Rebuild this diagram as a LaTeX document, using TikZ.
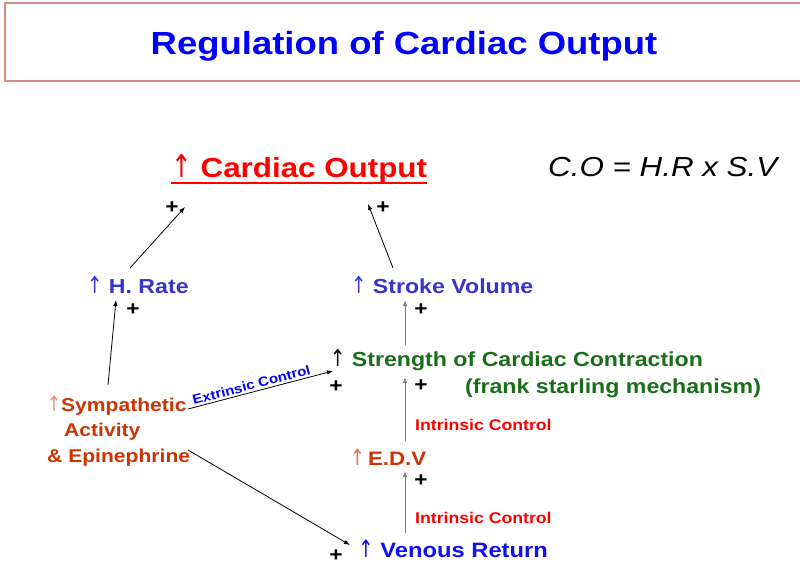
\documentclass[tikz,border=0pt]{standalone}
\usepackage{fontspec}
\setmainfont[FakeStretch=1.14]{Liberation Sans}
\newfontfamily\arrowfont{DejaVu Sans}
\usetikzlibrary{arrows.meta}
\definecolor{titleblue}{HTML}{0000FF}
\definecolor{boxpink}{HTML}{D98A84}
\definecolor{hrblue}{HTML}{3535CC}
\definecolor{vrblue}{HTML}{1010F0}
\definecolor{cgreen}{HTML}{1A6E1A}
\definecolor{orred}{HTML}{CC3300}
\definecolor{cored}{HTML}{FF0000}
\definecolor{lgrey}{HTML}{808080}
\tikzset{
  lbl/.style={inner sep=0pt, anchor=base west, font=\bfseries},
  plus/.style={inner sep=0pt, font=\bfseries\fontsize{20}{20}\selectfont},
  arr/.style={-{Latex[length=6pt,width=4.5pt]}, line width=0.8pt},
  garr/.style={arr, draw=lgrey, line width=1pt}
}
\newcommand{\up}{{\arrowfont\mdseries\scalebox{0.9}[1.15]{↑}}}
\begin{document}
\begin{tikzpicture}[x=1pt,y=-1pt]
\useasboundingbox (0,0) rectangle (800,588);
\draw[boxpink, line width=1.5pt] (5,3) rectangle (805,81);
\node[lbl, text=titleblue, font=\bfseries\fontsize{32}{32}\selectfont, anchor=base] (title) at (404,55) {Regulation of Cardiac Output};

\node[lbl, text=cored, font=\bfseries\fontsize{27.5}{27.5}\selectfont] (co) at (171,178) {\up\ Cardiac Output};
\draw[cored, line width=2.2pt] ([yshift=-5pt]co.base west) -- ([yshift=-5pt]co.base east);
\node[lbl, font=\itshape\fontsize{27.5}{27.5}\selectfont] (eq) at (548,177) {C.O = H.R x S.V};

\node[lbl, text=hrblue, font=\bfseries\fontsize{20.3}{20.3}\selectfont] (hr) at (87,293) {\up\ H. Rate};
\node[lbl, text=hrblue, font=\bfseries\fontsize{20.3}{20.3}\selectfont] (sv) at (351,293) {\up\ Stroke Volume};

\node[lbl, text=cgreen, font=\bfseries\fontsize{20.3}{20.3}\selectfont] (sc) at (330,366) {{\color{black}\up}\ Strength of Cardiac Contraction};
\node[lbl, text=cgreen, font=\bfseries\fontsize{20.3}{20.3}\selectfont] (fs) at (465,393) {(frank starling mechanism)};

\node[lbl, text=orred, font=\bfseries\fontsize{19.5}{19.5}\selectfont] (edv) at (350,465) {{\color{orred!70}\up}\,E.D.V};
\node[lbl, text=cored, font=\bfseries\fontsize{15.5}{15.5}\selectfont] (ic1) at (415,430) {Intrinsic Control};
\node[lbl, text=cored, font=\bfseries\fontsize{15.5}{15.5}\selectfont] (ic2) at (415,523) {Intrinsic Control};

\node[lbl, text=vrblue, font=\bfseries\fontsize{20.8}{20.8}\selectfont] (vr) at (358,557) {\up\ Venous Return};

\node[lbl, text=orred, font=\bfseries\fontsize{18.5}{18.5}\selectfont] (sym1) at (47,411) {{\color{orred!55}\up}Sympathetic};
\node[lbl, text=orred, font=\bfseries\fontsize{18.5}{18.5}\selectfont] (sym2) at (64,436) {Activity};
\node[lbl, text=orred, font=\bfseries\fontsize{18.5}{18.5}\selectfont] (sym3) at (47,462) {\& Epinephrine};

% plus signs
\node[plus] (p1) at (172,208) {+};
\node[plus] (p2) at (383,208) {+};
\node[plus] (p3) at (133,310) {+};
\node[plus] (p4) at (421,310) {+};
\node[plus] (p5) at (336,387) {+};
\node[plus] (p6) at (421,386) {+};
\node[plus] (p7) at (421,481) {+};
\node[plus] (p8) at (336,556) {+};

% connector endpoints
\coordinate (hrtop) at (130,268);
\coordinate (cotipl) at (185,207);
\coordinate (svtop) at (393,268);
\coordinate (cotipr) at (368,204);
\coordinate (symtop) at (108,385);
\coordinate (hrbot) at (116,300);
\coordinate (symr) at (188,409);
\coordinate (scl) at (333,371);
\coordinate (symb) at (188,450);
\coordinate (vrl) at (350,545);
\coordinate (sctop) at (405,345);
\coordinate (svbot) at (405,300);
\coordinate (edvtop) at (405,441);
\coordinate (scbot) at (405,377);
\coordinate (vrtop) at (405,533);
\coordinate (edvbot) at (405,471);

\draw[arr] (hrtop) -- (cotipl);
\draw[arr] (svtop) -- (cotipr);
\draw[arr] (symtop) -- (hrbot);
\draw[arr] (symr) -- node[sloped, above, inner sep=2pt, text=titleblue, font=\bfseries\fontsize{13.2}{13.2}\selectfont, pos=0.45] (ext) {Extrinsic Control} (scl);
\draw[arr] (symb) -- (vrl);
\draw[garr] (sctop) -- (svbot);
\draw[garr] (edvtop) -- (scbot);
\draw[garr] (vrtop) -- (edvbot);
\end{tikzpicture}
\end{document}
